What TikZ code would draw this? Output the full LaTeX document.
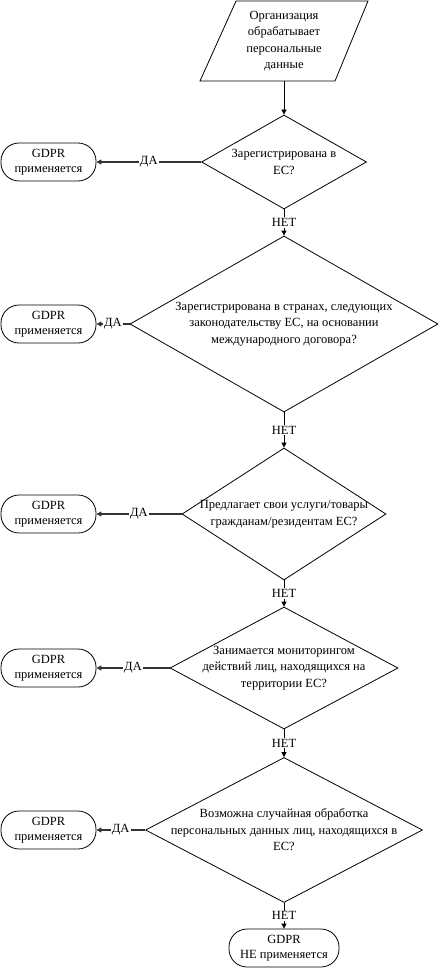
\documentclass[tikz,border=0pt]{standalone}
\usepackage{fontspec}
\setmainfont{Liberation Serif}
\usetikzlibrary{shapes.geometric,arrows.meta}
\begin{document}
\begin{tikzpicture}[x=1pt,y=-1pt,
  every node/.style={font=\fontsize{12.5}{16.5}\selectfont},
  decision/.style={draw, diamond, inner sep=0pt, line width=0.8pt},
  qtext/.style={align=center, inner sep=0pt},
  term/.style={draw, rectangle, rounded corners=18pt, minimum width=95pt, minimum height=38pt, align=center, inner sep=0pt, line width=0.8pt, font=\fontsize{12.5}{15}\selectfont},
  arr/.style={-{Triangle[length=5pt,width=5pt]}, line width=0.8pt},
  yarr/.style={arr, draw=black!80, line width=1.1pt},
  lbl/.style={fill=white, inner sep=1pt}
]
\useasboundingbox (0,0) rectangle (440,971);
% start (parallelogram)
\draw[line width=0.8pt] (236,1) -- (368,1) -- (335,81) -- (200,81) -- cycle;
\node[qtext] (start) at (284,41) {Организация\\обрабатывает\\персональные\\данные};
\coordinate (startb) at (284,81);
% decisions
\node[decision, minimum width=165pt, minimum height=94pt] (d1) at (284,162) {};
\node[qtext] (q1) at (d1) {Зарегистрирована в\\ЕС?};
\node[decision, minimum width=308pt, minimum height=176pt] (d2) at (284,324) {};
\node[qtext] (q2) at (d2) {Зарегистрирована в странах, следующих\\законодательству ЕС, на основании\\международного договора?};
\node[decision, minimum width=204pt, minimum height=132pt] (d3) at (284,514) {};
\node[qtext] (q3) at (d3) {Предлагает свои услуги/товары\\гражданам/резидентам ЕС?};
\node[decision, minimum width=228pt, minimum height=122pt] (d4) at (284,668) {};
\node[qtext] (q4) at (d4) {Занимается мониторингом\\действий лиц, находящихся на\\территории ЕС?};
\node[decision, minimum width=277pt, minimum height=145pt] (d5) at (284,830) {};
\node[qtext] (q5) at (d5) {Возможна случайная обработка\\персональных данных лиц, находящихся в\\ЕС?};
% terminals
\node[term] (g1) at (48.5,162) {GDPR\\применяется};
\node[term] (g2) at (48.5,324) {GDPR\\применяется};
\node[term] (g3) at (48.5,514) {GDPR\\применяется};
\node[term] (g4) at (48.5,668) {GDPR\\применяется};
\node[term] (g5) at (48.5,830) {GDPR\\применяется};
\node[term, minimum width=110pt] (gn) at (284,948) {GDPR\\НЕ применяется};
% connectors
\draw[arr] (startb) -- (d1.north);
\draw[arr] (d1.south) -- node[lbl] {НЕТ} (d2.north);
\draw[arr] (d2.south) -- node[lbl] {НЕТ} (d3.north);
\draw[arr] (d3.south) -- node[lbl] {НЕТ} (d4.north);
\draw[arr] (d4.south) -- node[lbl] {НЕТ} (d5.north);
\draw[arr] (d5.south) -- node[lbl] {НЕТ} (gn.north);
\draw[yarr] (d1.west) -- node[lbl] {ДА} (g1.east);
\draw[yarr] (d2.west) -- node[lbl] {ДА} (g2.east);
\draw[yarr] (d3.west) -- node[lbl] {ДА} (g3.east);
\draw[yarr] (d4.west) -- node[lbl] {ДА} (g4.east);
\draw[yarr] (d5.west) -- node[lbl] {ДА} (g5.east);
\end{tikzpicture}
\end{document}
